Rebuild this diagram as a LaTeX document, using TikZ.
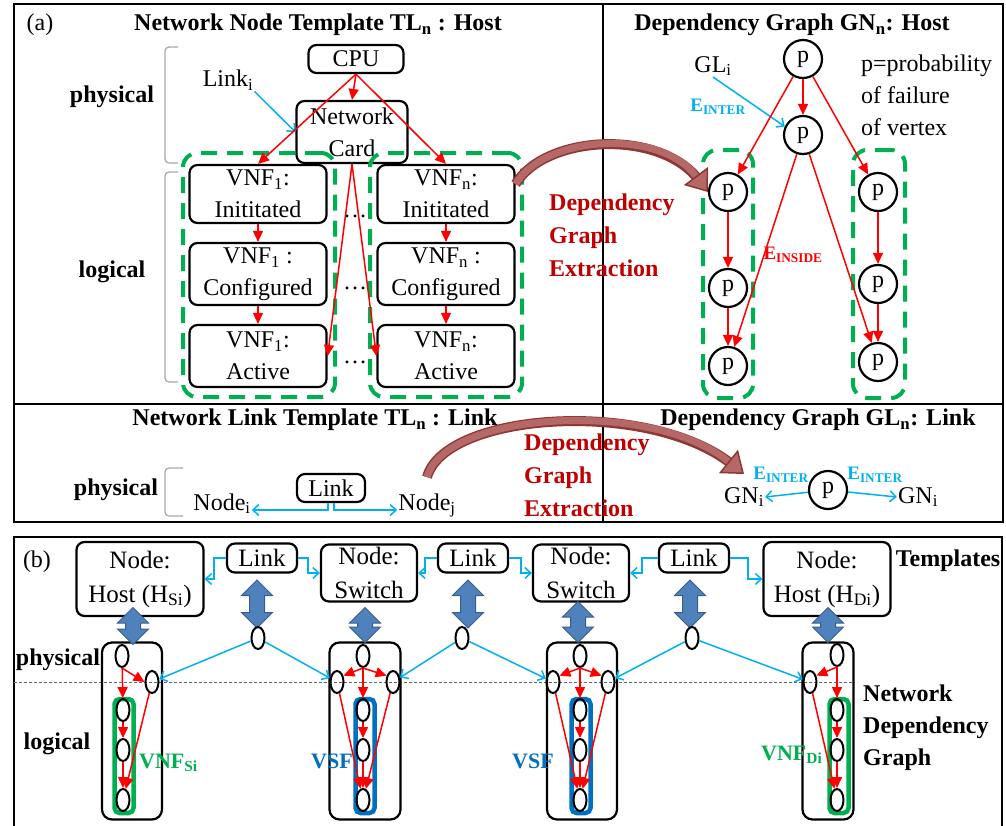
\documentclass[tikz,border=0pt]{standalone}
\usepackage{fontspec}
\setmainfont{Liberation Serif}
\usetikzlibrary{arrows.meta,shapes.geometric,shapes.arrows,fit}
\definecolor{redline}{RGB}{255,0,0}
\definecolor{skyline}{RGB}{0,176,240}
\definecolor{grpgreen}{RGB}{0,176,80}
\definecolor{vsfblue}{RGB}{0,112,192}
\definecolor{xtrred}{RGB}{192,0,0}
\definecolor{bigdark}{RGB}{140,56,54}
\definecolor{biglight}{RGB}{182,104,102}
\definecolor{blkfill}{RGB}{79,129,189}
\definecolor{blkdraw}{RGB}{56,93,138}
\newcommand{\txt}{\fontsize{24}{32}\selectfont}

\begin{document}
\begin{tikzpicture}[x=1pt,y=-1pt,
every node/.style={font=\txt, inner sep=1pt},
frame/.style={draw=black, line width=2pt},
ttl/.style={font=\txt\bfseries},
lvl/.style={font=\txt\bfseries},
tbox/.style={draw, rectangle, rounded corners=8pt, line width=2.2pt, align=center, inner sep=0pt},
vnfbox/.style={tbox, minimum width=137pt, minimum height=62pt},
tmpl/.style={tbox, font=\fontsize{25}{34}\selectfont},
pnode/.style={draw, circle, line width=2.2pt, minimum size=38pt, inner sep=0pt},
vx/.style={draw, ellipse, line width=2pt, minimum width=13pt, minimum height=22pt, inner sep=0pt},
gbox/.style={draw, rectangle, rounded corners=10pt, line width=2.2pt, minimum height=177pt},
colgrp/.style={rectangle, rounded corners=5pt, line width=4.5pt, minimum width=19pt, minimum height=114pt},
grpdash/.style={draw=grpgreen, line width=4pt, dash pattern=on 16pt off 10pt, rounded corners=14pt, inner sep=0pt},
brk/.style={draw=gray!70, line width=1.2pt, rounded corners=4pt},
redarr/.style={draw=redline, line width=1.5pt, -{Triangle[length=11pt,width=10pt]}},
bluearr/.style={draw=skyline, line width=1.5pt, -{Straight Barb[length=6pt,width=11pt]}},
bigarr/.style={draw=biglight, line width=7pt, -{Triangle[width=30pt,length=20pt,fill=biglight,color=bigdark,line width=1.5pt]},
  preaction={draw=bigdark, line width=10pt, arrows=-, shorten >=14pt}},
blk/.style={double arrow, shape border rotate=90, draw=blkdraw, fill=blkfill, line width=1pt, inner sep=7pt, double arrow head extend=8pt, double arrow head indent=0pt},
extr/.style={font=\fontsize{24}{33}\selectfont\bfseries, text=xtrred, align=left, anchor=west},
einter/.style={font=\fontsize{19}{20}\selectfont\bfseries, text=skyline},
lbl/.style={font=\fontsize{22}{24}\selectfont\bfseries, anchor=base west},
]
\useasboundingbox (0,0) rectangle (1006,825);

% panel (a): frames
\draw[frame] (14,4) rectangle (1003,522);
\draw[frame] (603,4) -- (603,522);
\draw[frame] (14,404) -- (1003,404);

\node (tagA) at (40,25) {(a)};
\node[ttl] (ttlTN) at (318,25) {Network Node Template TL\textsubscript{n} : Host};
\node[ttl] (ttlGN) at (792,25) {Dependency Graph GN\textsubscript{n}: Host};
\node[lvl] (physA) at (112,97) {physical};
\node[lvl] (logA) at (112,272) {logical};
\draw[brk] (178,47) -- (165,47) -- (165,163) -- (178,163);
\draw[brk] (178,172) -- (165,172) -- (165,382) -- (178,382);

% node template
\node[tbox, minimum width=95pt, minimum height=28pt] (cpu) at (356,59) {CPU};
\node[tbox, minimum width=111pt, minimum height=62pt] (card) at (352,132) {Network\\Card};
\node (linki) at (228,80) {Link\textsubscript{i}};
\node[vnfbox, minimum height=58pt] (v1i) at (258,194) {VNF\textsubscript{1}:\\Inititated};
\node[vnfbox] (v1c) at (258,274) {VNF\textsubscript{1} :\\Configured};
\node[vnfbox] (v1a) at (258,356) {VNF\textsubscript{1}:\\Active};
\node[vnfbox, minimum height=58pt] (vni) at (446,194) {VNF\textsubscript{n}:\\Inititated};
\node[vnfbox] (vnc) at (446,274) {VNF\textsubscript{n} :\\Configured};
\node[vnfbox] (vna) at (446,356) {VNF\textsubscript{n}:\\Active};
\node (dots1) at (355,216) {\dots};
\node (dots2) at (355,288) {\dots};
\node (dots3) at (355,362) {\dots};
\node[grpdash, fit={(183,153) (335,397)}] (grpV1) {};
\node[grpdash, fit={(370,153) (522,397)}] (grpVn) {};

\draw[bluearr] (linki.south east) -- (card.west);
\draw[redarr] (cpu.south) -- (card.north);
\draw[redarr] (cpu.south) -- (v1i.north);
\draw[redarr] (cpu.south) -- (vni.north);
\draw[redarr] (card.south) -- (v1a.east);
\draw[redarr] (card.south) -- (vna.west);
\draw[redarr] (v1i) -- (v1c);
\draw[redarr] (v1c) -- (v1a);
\draw[redarr] (vni) -- (vnc);
\draw[redarr] (vnc) -- (vna);

% node dependency graph
\node[pnode] (g0) at (803,59) {p};
\node[pnode] (g1) at (803,135) {p};
\node[pnode] (gl1) at (728,192) {p};
\node[pnode] (gl2) at (728,288) {p};
\node[pnode] (gl3) at (728,366) {p};
\node[pnode] (gr1) at (878,192) {p};
\node[pnode] (gr2) at (878,284) {p};
\node[pnode] (gr3) at (878,362) {p};
\node[grpdash, fit={(703,150) (753,398)}] (grpGL) {};
\node[grpdash, fit={(853,150) (905,398)}] (grpGR) {};
\node (gli) at (713,66) {GL\textsubscript{i}};
\node[einter] (einA) at (718,107) {E\textsubscript{INTER}};
\node[anchor=west, align=left] (prob) at (860,95) {p=probability\\of failure\\of vertex};
\node[font=\fontsize{19}{20}\selectfont\bfseries, text=redline] (eins) at (793,255) {E\textsubscript{INSIDE}};

\draw[bluearr] (gli.south) -- (g1.155);
\draw[redarr] (g0) -- (g1);
\draw[redarr] (g0) -- (gl1);
\draw[redarr] (g0) -- (gr1);
\draw[redarr] (g1) -- (gl3);
\draw[redarr] (g1) -- (gr3);
\draw[redarr] (gl1) -- (gl2);
\draw[redarr] (gl2) -- (gl3);
\draw[redarr] (gr1) -- (gr2);
\draw[redarr] (gr2) -- (gr3);

\draw[bigarr] ([yshift=10pt]vni.east) .. controls (545,135) and (660,128) .. (gl1.west);
\node[extr] (xtrA) at (548,235) {Dependency\\Graph\\Extraction};

% link template and link graph
\node[ttl] (ttlTL) at (315,420) {Network Link Template TL\textsubscript{n} : Link};
\node[ttl] (ttlGL) at (818,420) {Dependency Graph GL\textsubscript{n}: Link};
\node[lvl] (physL) at (116,490) {physical};
\draw[brk] (183,468) -- (165,468) -- (165,516) -- (183,516);
\node[tbox, minimum width=68pt, minimum height=28pt] (lnk) at (331,488) {Link};
\node[anchor=base] (ndi) at (222,510) {Node\textsubscript{i}};
\node[anchor=base] (ndj) at (427,510) {Node\textsubscript{j}};
\draw[bluearr] ([xshift=-3pt]lnk.south) |- (ndi.base east);
\draw[bluearr] ([xshift=3pt]lnk.south) |- (ndj.base west);

\node[pnode] (lp) at (828,490) {p};
\node (gni1) at (744,497) {GN\textsubscript{i}};
\node (gni2) at (918,497) {GN\textsubscript{i}};
\node[einter] (einL) at (781,475) {E\textsubscript{INTER}};
\node[einter] (einR) at (875,475) {E\textsubscript{INTER}};
\draw[bluearr] (lp) -- (gni1.east);
\draw[bluearr] (lp) -- (gni2.west);

\draw[bigarr] ([yshift=15pt]ndj.north) .. controls (445,412) and (650,398) .. ([yshift=12pt]gni1.north);
\node[extr] (xtrL) at (523,475) {Dependency\\Graph\\Extraction};

% panel (b)
\draw[frame] (14,537) rectangle (1002,830);
\draw[densely dashed, gray!80!black, line width=0.8pt] (14,682) -- (855,682);
\node (tagB) at (37,562) {(b)};
\node[lvl] (physB) at (58,660) {physical};
\node[lvl] (logB) at (57,744) {logical};
\node[lvl] (tmplB) at (948,561) {Templates};
\node[lvl, anchor=west, align=left] (ndgB) at (862,728) {Network\\Dependency\\Graph};

\node[tmpl, minimum width=127pt, minimum height=74pt] (tHS) at (140,579) {Node:\\Host (H\textsubscript{Si})};
\node[tmpl, minimum width=70pt, minimum height=29pt] (tL1) at (262,558) {Link};
\node[tmpl, minimum width=96pt, minimum height=57pt] (tSW1) at (369,573) {Node:\\Switch};
\node[tmpl, minimum width=70pt, minimum height=29pt] (tL2) at (473,558) {Link};
\node[tmpl, minimum width=96pt, minimum height=57pt] (tSW2) at (581,573) {Node:\\Switch};
\node[tmpl, minimum width=70pt, minimum height=29pt] (tL3) at (694,558) {Link};
\node[tmpl, minimum width=127pt, minimum height=74pt] (tHD) at (827,579) {Node:\\Host (H\textsubscript{Di})};

\draw[bluearr] (tL1.west) -- ++(-12,0) |- (tHS.east);
\draw[bluearr] (tL1.east) -- ++(10,0) |- (tSW1.west);
\draw[bluearr] (tL2.west) -- ++(-12,0) |- (tSW1.east);
\draw[bluearr] (tL2.east) -- ++(12,0) |- (tSW2.west);
\draw[bluearr] (tL3.west) -- ++(-16,0) |- (tSW2.east);
\draw[bluearr] (tL3.east) -- ++(18,0) |- (tHD.west);

\node[gbox, minimum width=60pt] (gS) at (132,731) {};
\node[gbox, minimum width=71pt] (gW1) at (365,731) {};
\node[gbox, minimum width=70pt] (gW2) at (582,731) {};
\node[gbox, minimum width=51pt] (gD) at (828,731) {};

\node[blk, minimum height=37pt] (bkS) at (133,626) {};
\node[blk, minimum height=48pt] (bk1) at (257,604) {};
\node[blk, minimum height=35pt] (bkW1) at (365,625) {};
\node[blk, minimum height=48pt] (bk2) at (468,604) {};
\node[blk, minimum height=41pt] (bkW2) at (578,622) {};
\node[blk, minimum height=48pt] (bk3) at (690,604) {};
\node[blk, minimum height=35pt] (bkD) at (828,625) {};

\node[colgrp, draw=grpgreen] (cS) at (124,756) {};
\node[colgrp, draw=vsfblue] (cW1) at (365,756) {};
\node[colgrp, draw=vsfblue] (cW2) at (581,756) {};
\node[colgrp, draw=grpgreen] (cD) at (839,756) {};

\node[vx] (vL1) at (258,638) {};
\node[vx] (vL2) at (462,638) {};
\node[vx] (vL3) at (692,638) {};

% host S
\node[vx] (vS0) at (122,656) {};
\node[vx] (vSr) at (152,682) {};
\node[vx] (vS1) at (123,710) {};
\node[vx] (vS2) at (123,750) {};
\node[vx] (vS3) at (123,800) {};
% switch 1
\node[vx] (vW0) at (363,656) {};
\node[vx] (vWl) at (337,682) {};
\node[vx] (vWr) at (393,682) {};
\node[vx] (vW1) at (363,710) {};
\node[vx] (vW2) at (363,750) {};
\node[vx] (vW3) at (363,800) {};
% switch 2
\node[vx] (vX0) at (580,656) {};
\node[vx] (vXl) at (553,682) {};
\node[vx] (vXr) at (608,682) {};
\node[vx] (vX1) at (580,710) {};
\node[vx] (vX2) at (580,750) {};
\node[vx] (vX3) at (580,800) {};
% host D
\node[vx] (vD0) at (837,655) {};
\node[vx] (vDl) at (810,682) {};
\node[vx] (vD1) at (837,710) {};
\node[vx] (vD2) at (837,750) {};
\node[vx] (vD3) at (837,800) {};

\node[lbl, text=grpgreen] (lbS) at (138,768) {VNF\textsubscript{Si}};
\node[lbl, text=vsfblue] (lbW1) at (310,768) {VSF};
\node[lbl, text=vsfblue] (lbW2) at (511,768) {VSF};
\node[lbl, text=grpgreen] (lbD) at (760,760) {VNF\textsubscript{Di}};

\draw[bluearr] (vL1) -- (vSr);
\draw[bluearr] (vL1) -- (vWl);
\draw[bluearr] (vL2) -- (vWr);
\draw[bluearr] (vL2) -- (vXl);
\draw[bluearr] (vL3) -- (vXr);
\draw[bluearr] (vL3) -- (vDl);

\draw[redarr] (vS0) -- (vS1);
\draw[redarr] (vS0.south) -- (vSr.west);
\draw[redarr] (vS1) -- (vS2);
\draw[redarr] (vS2) -- (vS3);
\draw[redarr] (vSr) -- (vS3);

\draw[redarr] (vW0) -- (vW1);
\draw[redarr] (vW0.south) -- (vWl.45);
\draw[redarr] (vW0.south) -- (vWr.135);
\draw[redarr] (vW1) -- (vW2);
\draw[redarr] (vW2) -- (vW3);
\draw[redarr] (vWl) -- (vW3);
\draw[redarr] (vWr) -- (vW3);

\draw[redarr] (vX0) -- (vX1);
\draw[redarr] (vX0.south) -- (vXl.45);
\draw[redarr] (vX0.south) -- (vXr.135);
\draw[redarr] (vX1) -- (vX2);
\draw[redarr] (vX2) -- (vX3);
\draw[redarr] (vXl) -- (vX3);
\draw[redarr] (vXr) -- (vX3);

\draw[redarr] (vD0) -- (vD1);
\draw[redarr] (vD0.south) -- (vDl.45);
\draw[redarr] (vD1) -- (vD2);
\draw[redarr] (vD2) -- (vD3);
\draw[redarr] (vDl) -- (vD3);
\end{tikzpicture}
\end{document}
